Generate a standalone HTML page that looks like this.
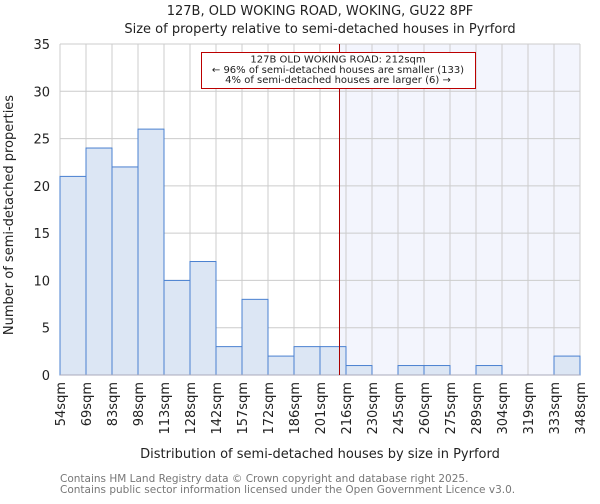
<!DOCTYPE html>
<html><head><meta charset="utf-8"><style>
body{margin:0;background:#fff;font-family:"DejaVu Sans","Liberation Sans",sans-serif}
svg text{font-family:"DejaVu Sans","Liberation Sans",sans-serif}
</style></head><body>
<svg id="c" width="600" height="500" xmlns="http://www.w3.org/2000/svg">
<text x="320" y="15" text-anchor="middle" font-size="13" fill="#222">127B, OLD WOKING ROAD, WOKING, GU22 8PF</text>
<text x="320" y="33" text-anchor="middle" font-size="13" fill="#222">Size of property relative to semi-detached houses in Pyrford</text>
<g id="plot"></g>
<text x="320" y="458" text-anchor="middle" font-size="13" fill="#222">Distribution of semi-detached houses by size in Pyrford</text>
<text transform="translate(13,215) rotate(-90)" text-anchor="middle" font-size="13" fill="#222">Number of semi-detached properties</text>
<text x="60" y="482" font-size="10.5" fill="#777">Contains HM Land Registry data © Crown copyright and database right 2025.</text>
<text x="60" y="493" font-size="10.5" fill="#777">Contains public sector information licensed under the Open Government Licence v3.0.</text>
</svg>
<script>
const categories=["54sqm","69sqm","83sqm","98sqm","113sqm","128sqm","142sqm","157sqm","172sqm","186sqm","201sqm","216sqm","230sqm","245sqm","260sqm","275sqm","289sqm","304sqm","319sqm","333sqm","348sqm"];
const counts=[21,24,22,26,10,12,3,8,2,3,3,1,0,1,1,0,1,0,0,2];
const yTicks=[0,5,10,15,20,25,30,35];
const markerBin=10.75;
const NS="http://www.w3.org/2000/svg";
const g=document.getElementById('plot');
const L=60,R=580,T=44,B=375,yMax=35;
const n=counts.length,bw=(R-L)/n;
const x=i=>L+i*bw;
const y=v=>B-v*(B-T)/yMax;
function mk(t,a){const e=document.createElementNS(NS,t);for(const k in a)e.setAttribute(k,a[k]);g.appendChild(e);return e;}
const mx=x(markerBin);
let e=mk('rect',{x:mx,y:T,width:R-mx,height:B-T,fill:'#f3f5fd'});


yTicks.forEach(v=>{const l=mk('line',{x1:L,x2:R,y1:y(v),y2:y(v),stroke:'#ccc','stroke-width':1});


const t=mk('text',{x:L-10,y:y(v)+5,'text-anchor':'end','font-size':13,fill:'#222'});t.textContent=v;

});
categories.forEach((c,i)=>{const l=mk('line',{x1:x(i),x2:x(i),y1:T,y2:B,stroke:'#ccc','stroke-width':1});


const t=mk('text',{transform:`translate(${x(i)+5},382) rotate(-90)`,'text-anchor':'end','font-size':13,fill:'#222'});t.textContent=c;

});
counts.forEach((v,i)=>{if(v<=0)return;const r=mk('rect',{x:x(i),y:y(v),width:bw,height:B-y(v),fill:'#dce6f4',stroke:'#4a80d0','stroke-width':1});

});
e=mk('line',{x1:L,x2:R,y1:B,y2:B,stroke:'#aab','stroke-width':1});


e=mk('line',{x1:mx,x2:mx,y1:T,y2:B,stroke:'#aa0000','stroke-width':1});


e=mk('rect',{x:201.5,y:52.5,width:274,height:36,fill:'#fff',stroke:'#bb0000','stroke-width':1});


["127B OLD WOKING ROAD: 212sqm","← 96% of semi-detached houses are smaller (133)","4% of semi-detached houses are larger (6) →"].forEach((s,k)=>{const t=mk('text',{x:338,y:62.5+k*10.3,'text-anchor':'middle','font-size':10,fill:'#222'});t.textContent=s;

});
</script>
</body></html>
